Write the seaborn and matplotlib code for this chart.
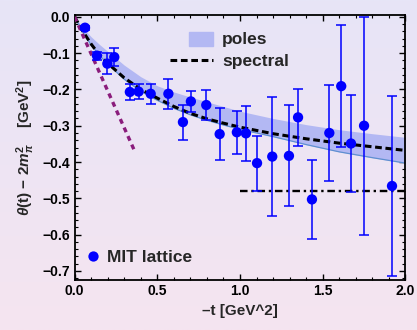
import numpy as np
import pandas as pd
import matplotlib
matplotlib.use("Agg")
import matplotlib.pyplot as plt
import matplotlib.patches as mpatches
from matplotlib.lines import Line2D
from matplotlib.legend_handler import HandlerPatch
from matplotlib.ticker import MultipleLocator
import seaborn as sns

# ---------------- data ----------------
lat_t = [0.063, 0.135, 0.198, 0.240, 0.334, 0.387, 0.460, 0.567, 0.655, 0.703,
         0.796, 0.877, 0.981, 1.036, 1.103, 1.195, 1.296, 1.351, 1.435, 1.540,
         1.612, 1.671, 1.750, 1.919]
lat_val = [-0.030, -0.107, -0.129, -0.111, -0.207, -0.206, -0.212, -0.212, -0.290, -0.233,
           -0.243, -0.323, -0.318, -0.321, -0.403, -0.385, -0.383, -0.277, -0.503, -0.320,
           -0.191, -0.349, -0.300, -0.466]
lat_err = [0.006, 0.011, 0.028, 0.025, 0.023, 0.021, 0.028, 0.042, 0.048, 0.028,
           0.042, 0.072, 0.059, 0.075, 0.076, 0.163, 0.139, 0.078, 0.109, 0.131,
           0.168, 0.133, 0.300, 0.247]

curve_t = [0.0, 0.05, 0.1, 0.15, 0.2, 0.3, 0.4, 0.5, 0.6, 0.7, 0.8, 0.9, 1.0,
           1.2, 1.4, 1.6, 1.8, 2.0]
spectral = [0.0, -0.040, -0.075, -0.105, -0.128, -0.168, -0.200, -0.224, -0.247, -0.266,
            -0.281, -0.293, -0.304, -0.322, -0.336, -0.348, -0.358, -0.368]
poles_hi = [0.0, -0.030, -0.055, -0.076, -0.095, -0.133, -0.165, -0.190, -0.207, -0.221,
            -0.234, -0.247, -0.260, -0.280, -0.297, -0.311, -0.322, -0.332]
poles_lo = [0.0, -0.042, -0.078, -0.106, -0.130, -0.172, -0.205, -0.230, -0.252, -0.270,
            -0.285, -0.298, -0.310, -0.330, -0.352, -0.372, -0.388, -0.403]

slope_t = [0.0, 0.365]
slope_val = [0.0, -0.372]

asym_t = [1.0, 2.0]
asym_val = [-0.481, -0.481]

x_ticks = [0.0, 0.5, 1.0, 1.5, 2.0]
y_ticks = [0.0, -0.1, -0.2, -0.3, -0.4, -0.5, -0.6, -0.7]

# ---------------- style ----------------
sns.set_theme(style="ticks")
plt.rcParams['font.family'] = ['Liberation Sans', 'DejaVu Sans']
plt.rcParams['font.weight'] = 'bold'
plt.rcParams['mathtext.fontset'] = 'custom'
plt.rcParams['mathtext.it'] = 'Liberation Sans:italic:bold'
plt.rcParams['mathtext.rm'] = 'Liberation Sans:bold'
plt.rcParams['mathtext.bf'] = 'Liberation Sans:bold'

fig = plt.figure(figsize=(4.17, 3.30), dpi=100)

# gradient background
bg = fig.add_axes([0, 0, 1, 1], zorder=-10)
top_c = np.array([231, 229, 247]) / 255.0
bot_c = np.array([245, 228, 240]) / 255.0
g = np.linspace(0, 1, 256)[:, None]
grad = (top_c[None, :] * (1 - g) + bot_c[None, :] * g)[:, None, :]
bg.imshow(grad, aspect='auto', extent=[0, 1, 0, 1], origin='upper')
bg.set_axis_off()

ax = fig.add_axes([74.6 / 417, 50 / 330, 330.8 / 417, 265 / 330])
ax.set_facecolor('none')

df_curve = pd.DataFrame({'t': curve_t, 'spectral': spectral, 'lo': poles_lo, 'hi': poles_hi})
df_lat = pd.DataFrame({'t': lat_t, 'val': lat_val, 'err': lat_err})

band_color = '#b3b8f3'
ax.fill_between(df_curve['t'], df_curve['lo'], df_curve['hi'], color=band_color, lw=0, zorder=1)
sns.lineplot(data=df_curve, x='t', y='lo', ax=ax, color='#5f8fd0', lw=0.9, zorder=2)
sns.lineplot(data=df_curve, x='t', y='spectral', ax=ax, color='black', lw=2.2,
             linestyle=(0, (2.2, 1.2)), zorder=3)
sns.lineplot(x=slope_t, y=slope_val, ax=ax, color='#8a1c7c', lw=2.4,
             linestyle=(0, (1.5, 1.3)), zorder=3)
sns.lineplot(x=asym_t, y=asym_val, ax=ax, color='black', lw=1.7,
             linestyle=(0, (3.2, 1.6, 1.0, 1.6)), zorder=3)

ax.errorbar(df_lat['t'], df_lat['val'], yerr=df_lat['err'], fmt='none',
            ecolor='#0000ff', elinewidth=1.1, capsize=3.6, capthick=1.1, zorder=4)
sns.scatterplot(data=df_lat, x='t', y='val', ax=ax, color='#0000ff', s=55,
                edgecolor='none', zorder=5)

ax.set_xlim(0.0, 2.0)
ax.set_ylim(-0.725, 0.005)
ax.set_xticks(x_ticks)
ax.set_yticks(y_ticks)
ax.xaxis.set_minor_locator(MultipleLocator(0.1))
ax.yaxis.set_minor_locator(MultipleLocator(0.02))
ax.xaxis.set_major_formatter(matplotlib.ticker.FormatStrFormatter('%.1f'))
ax.yaxis.set_major_formatter(matplotlib.ticker.FuncFormatter(
    lambda v, p: ('\u2212%.1f' % abs(v)) if v < -1e-9 else '0.0'))
ax.tick_params(which='both', direction='in', top=True, right=True, colors='black',
               labelsize=10)
ax.tick_params(which='major', length=4, width=1.0, pad=3)
ax.tick_params(which='minor', length=2.2, width=0.8)
for lab in ax.get_xticklabels() + ax.get_yticklabels():
    lab.set_fontweight('bold')
for s in ax.spines.values():
    s.set_color('black')
    s.set_linewidth(1.3)

ax.set_xlabel('\u2013t [GeV^2]', fontsize=11, fontweight='bold', labelpad=4)
ax.set_ylabel(r'$\theta$(t) $-$ 2$m_\pi^2$    [GeV$^2$]', fontsize=11, fontweight='bold',
              labelpad=4)

# legends
def patch_func(legend, orig_handle, xdescent, ydescent, width, height, fontsize):
    return mpatches.Rectangle((-xdescent + 0.45 * width, -ydescent - 0.1 * height),
                              0.55 * width, 1.1 * height)

poles_handle = mpatches.Patch(color=band_color)
spec_handle = Line2D([], [], color='black', lw=2.2, linestyle=(0, (2.2, 1.2)))
leg1 = ax.legend([poles_handle, spec_handle], ['poles', 'spectral'],
                 loc='upper left', bbox_to_anchor=(0.288, 0.935), frameon=False,
                 borderpad=0, borderaxespad=0, handlelength=2.5, handletextpad=0.5,
                 labelspacing=0.35, prop={'weight': 'bold', 'size': 12.5},
                 handler_map={mpatches.Patch: HandlerPatch(patch_func=patch_func)})
ax.add_artist(leg1)
mit_handle = Line2D([], [], color='#0000ff', marker='o', linestyle='none', markersize=7.4,
                    markeredgewidth=0)
leg2 = ax.legend([mit_handle], ['MIT lattice'], loc='lower left',
                 bbox_to_anchor=(0.034, 0.055), frameon=False, borderpad=0,
                 borderaxespad=0, handlelength=0.8, handletextpad=0.4,
                 prop={'weight': 'bold', 'size': 12.5})

fig.savefig('out.png', dpi=100)
